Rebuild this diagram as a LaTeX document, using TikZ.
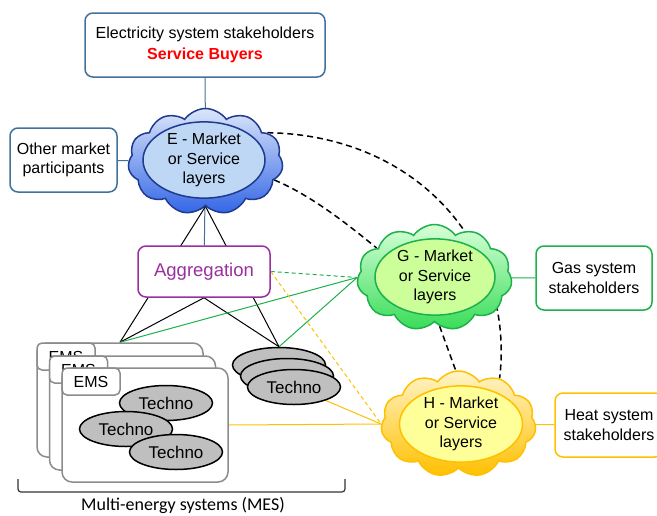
\documentclass[tikz,border=0pt]{standalone}
\usepackage{fontspec}
\setmainfont{Liberation Sans}
\newfontfamily\mesfont{Carlito}
\usetikzlibrary{shapes.symbols,shapes.geometric,backgrounds}
\definecolor{stakeblue}{HTML}{41719C}
\definecolor{ecloudline}{HTML}{1F3A8F}
\definecolor{ecloudtop}{HTML}{DCE6FA}
\definecolor{ecloudbot}{HTML}{3366E6}
\definecolor{ecore}{HTML}{BDD7F5}
\definecolor{aggpurple}{HTML}{9B2F9F}
\definecolor{gasgreen}{HTML}{1DB14B}
\definecolor{gcloudtop}{HTML}{D8FFD8}
\definecolor{gcloudbot}{HTML}{38DC58}
\definecolor{gcore}{HTML}{CCFF99}
\definecolor{heatorange}{HTML}{FFC000}
\definecolor{hcloudtop}{HTML}{FFF4C8}
\definecolor{hcloudbot}{HTML}{FFC000}
\definecolor{hcore}{HTML}{FFFF99}
\definecolor{emsgray}{HTML}{8C8C8C}
\definecolor{technogray}{HTML}{BFBFBF}
\begin{document}
\begin{tikzpicture}[x=1pt,y=-1pt,
  every node/.style={font=\fontsize{16}{19.5}\selectfont},
  stakebox/.style={draw, line width=1.5pt, rounded corners=8pt, fill=white, align=center, inner sep=0pt},
  layercloud/.style={cloud, cloud puffs=11, cloud puff arc=110, aspect=1.45, minimum width=155pt, minimum height=106pt, line width=1.5pt, inner sep=0pt},
  layercore/.style={ellipse, line width=1.5pt, align=center, inner sep=0pt},
  emsbox/.style={draw=emsgray, fill=white, line width=1.5pt, rounded corners=10pt, minimum width=166pt, minimum height=114pt},
  emstag/.style={draw=emsgray, fill=white, line width=1.5pt, rounded corners=5pt, minimum width=58pt, minimum height=27pt, inner sep=0pt},
  techno/.style={ellipse, draw, fill=technogray, line width=1.5pt, minimum width=93pt, minimum height=35pt, inner sep=0pt, font=\fontsize{17}{20}\selectfont},
  layerlink/.style={line width=1.5pt, dash pattern=on 6pt off 4pt},
  link/.style={line width=1pt},
]
\useasboundingbox (0,0) rectangle (657,515);
% stakeholders
\node[stakebox, draw=stakeblue, minimum width=240pt, minimum height=64pt] (buyers) at (205,45) {Electricity system stakeholders\\[1.5pt]\textcolor{red}{\bfseries Service Buyers}};
\node[stakebox, draw=stakeblue, minimum width=107pt, minimum height=64pt] (others) at (63.5,160) {Other market\\participants};
\node[stakebox, draw=gasgreen, minimum width=116pt, minimum height=64pt] (gas) at (594,278) {Gas system\\stakeholders};
\node[stakebox, draw=heatorange, minimum width=108pt, minimum height=64pt] (heat) at (609,425) {Heat system\\stakeholders};
% market layers
\node[layercloud, draw=ecloudline, top color=ecloudtop, bottom color=ecloudbot] (ecloud) at (205.5,161.5) {};
\node[layercore, draw=ecloudline, fill=ecore, minimum width=122pt, minimum height=70pt] (ecore) at (204,160) {E - Market\\or Service\\layers};
\node[layercloud, draw=gasgreen, top color=gcloudtop, bottom color=gcloudbot] (gcloud) at (434.5,277.5) {};
\node[layercore, draw=gasgreen, fill=gcore, minimum width=120pt, minimum height=71pt] (gcore) at (435,277) {G - Market\\or Service\\layers};
\node[layercloud, draw=heatorange, top color=hcloudtop, bottom color=hcloudbot] (hcloud) at (458.5,424) {};
\node[layercore, draw=heatorange, fill=hcore, minimum width=123pt, minimum height=68pt] (hcore) at (461,424) {H - Market\\or Service\\layers};
% aggregation
\node[stakebox, draw=aggpurple, text=aggpurple, minimum width=132pt, minimum height=51pt, font=\fontsize{18.5}{22}\selectfont] (agg) at (204,271.5) {Aggregation};
% multi-energy systems
\node[emsbox] (ems1) at (120,400) {};
\node[emstag, anchor=north west] (tag1) at (ems1.north west) {EMS};
\node[emsbox] (ems2) at (132.5,413) {};
\node[emstag, anchor=north west] (tag2) at (ems2.north west) {EMS};
\node[emsbox] (ems3) at (145,425) {};
\node[emstag, anchor=north west] (tag3) at (ems3.north west) {EMS};
\node[techno] (mes1) at (166,403) {Techno};
\node[techno] (mes2) at (126,429) {Techno};
\node[techno] (mes3) at (176,452) {Techno};
\node[techno] (techA) at (279,365) {};
\node[techno] (techB) at (287,376) {};
\node[techno] (techC) at (294,387) {Techno};
\draw[line width=1.2pt, rounded corners=3pt, black!80] (18,479) -- (18,492) -- (345,492) -- (345,479);
\node[font=\mesfont\fontsize{18}{21}\selectfont] (meslabel) at (183,505) {Multi-energy systems (MES)};
% connectors
\begin{pgfonlayer}{background}
\draw[link, stakeblue] (buyers) -- (ecloud);
\draw[link, stakeblue] (others) -- (ecloud);
\draw[link, stakeblue] (ecloud) -- (agg);
\draw[link] (ecloud.south) -- (ems1.north);
\draw[link] (ecloud.south) -- (techA.north);
\draw[link] (agg.south) -- (ems1.north);
\draw[link] (agg.south) -- (techA.north);
\draw[link, gasgreen] (ems1.north) -- (gcloud.west);
\draw[link, gasgreen] (techA.north) -- (gcloud.west);
\draw[link, gasgreen, dash pattern=on 4pt off 3pt] (agg.east) -- (gcloud.west);
\draw[link, heatorange, dash pattern=on 4pt off 3pt] (agg.east) -- (hcloud.west);
\draw[link, heatorange] (ems3.east) -- (hcloud.west);
\draw[link, heatorange] (techC) -- (hcloud.west);
\draw[link, gasgreen] (gcloud) -- (gas);
\draw[link, heatorange] (hcloud) -- (heat);
\draw[layerlink] (ecloud.25) .. controls (420,135) and (515,250) .. (hcloud.48);
\draw[layerlink] (ecloud.-15) .. controls (310,195) and (345,222) .. (gcloud.153);
\draw[layerlink] (gcloud.-84) -- (hcloud.93);
\end{pgfonlayer}
\end{tikzpicture}
\end{document}
